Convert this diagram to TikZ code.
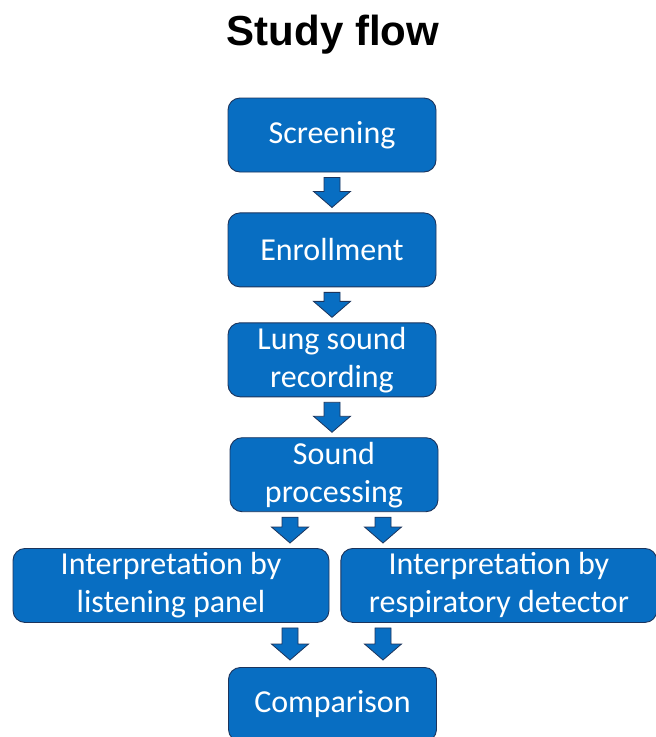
\documentclass[tikz,border=0pt]{standalone}
\usepackage{fontspec}
\setmainfont{Carlito}
\newfontfamily\titlefont{Liberation Sans}
\usetikzlibrary{positioning,calc}
\definecolor{boxblue}{RGB}{8,110,194}
\definecolor{edgeblue}{RGB}{28,52,92}
\tikzset{
    flowbox/.style={draw=edgeblue, line width=0.9pt, fill=boxblue, rounded corners=12pt,
        text=white, minimum width=208pt, minimum height=74pt, inner sep=2pt,
        align=center, font=\fontsize{32}{38}\selectfont},
    widebox/.style={flowbox, minimum width=316pt},
    blockarrow/.style={draw=edgeblue, line width=0.8pt, fill=boxblue},
}
\newcommand{\flowarrow}[2]{%
    \path[blockarrow] let \p1=(#1), \p2=(#2) in
        (\x1-8pt,\y1) -- (\x1+8pt,\y1) -- (\x1+8pt,\y2+16pt) -- (\x1+18.5pt,\y2+16pt)
        -- (\x1,\y2) -- (\x1-18.5pt,\y2+16pt) -- (\x1-8pt,\y2+16pt) -- cycle;}
\begin{document}
\begin{tikzpicture}
\useasboundingbox (0,0) rectangle (656pt,-737pt);
\clip (0,0) rectangle (656pt,-737pt);
\node[anchor=base, font=\titlefont\bfseries\fontsize{42}{50}\selectfont] (title) at (333pt,-45pt) {Study flow};
\node[flowbox] (scr) at (332pt,-135pt) {Screening};
\node[flowbox, below=40pt of scr] (enr) {Enrollment};
\node[flowbox, below=35pt of enr] (rec) {Lung sound\\recording};
\node[flowbox, below=40pt of rec, xshift=2pt] (proc) {Sound\\processing};
\node[widebox, anchor=north] (lis) at (171pt,-548pt) {Interpretation by\\listening panel};
\node[widebox, right=11pt of lis] (det) {Interpretation by\\respiratory detector};
\node[flowbox, anchor=north] (cmp) at (332.5pt,-667pt) {Comparison};
% arrows
\coordinate (al) at ([xshift=-44pt]proc.south);
\coordinate (ar) at ([xshift=49pt]proc.south);
\flowarrow{[yshift=-5pt]scr.south}{[yshift=5pt]enr.north}
\flowarrow{[yshift=-5pt]enr.south}{[yshift=5pt]rec.north}
\flowarrow{[yshift=-5pt]rec.south}{[yshift=5pt]proc.north}
\flowarrow{[yshift=-5pt]al}{[yshift=5pt]lis.north}
\flowarrow{[yshift=-5pt]ar}{[yshift=5pt]det.north}
\flowarrow{[yshift=-5pt]al |- lis.south}{[yshift=7pt]cmp.north}
\flowarrow{[yshift=-5pt]ar |- det.south}{[yshift=7pt]cmp.north}
\end{tikzpicture}
\end{document}
